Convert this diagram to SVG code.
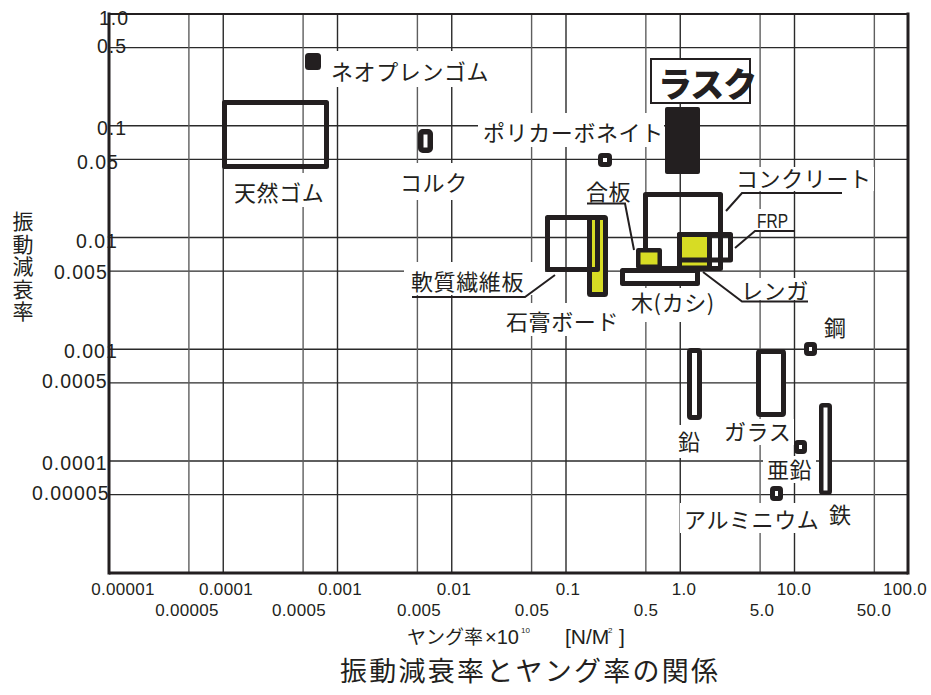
<svg xmlns="http://www.w3.org/2000/svg" width="931" height="695" viewBox="0 0 931 695">
<style>
.g{stroke:#2a2a2a;stroke-width:1.4;fill:none}
.gh{stroke:#5e5e5e;stroke-width:1.4;fill:none}
.b{stroke:#231f20;fill:none;stroke-linejoin:round}
.y{fill:#d7dc24}
.w{fill:#fff}
.k{fill:#231f20}
.bg{fill:#fff}
.lead{stroke:#231f20;stroke-width:2;fill:none}
.jp{font-family:"Noto Sans CJK JP","Noto Sans",sans-serif;font-size:22px;fill:#231f20;letter-spacing:0.6px}
.ny{font-family:"Liberation Sans",Arial,sans-serif;font-size:19.5px;fill:#231f20;letter-spacing:1px}
.nx{font-family:"Liberation Sans",Arial,sans-serif;font-size:17px;fill:#231f20;letter-spacing:0.3px;text-anchor:middle}
</style>
<rect x="0" y="0" width="931" height="695" fill="#fff"/>
<g id="grid">
<g class="g">
<line x1="109" y1="47.6" x2="908" y2="47.6"/>
<line x1="109" y1="125.75" x2="908" y2="125.75"/>
<line x1="109" y1="159.4" x2="908" y2="159.4"/>
<line x1="109" y1="237.5" x2="908" y2="237.5"/>
<line x1="109" y1="271.1" x2="908" y2="271.1"/>
<line x1="109" y1="349.25" x2="908" y2="349.25"/>
<line x1="109" y1="382.9" x2="908" y2="382.9"/>
<line x1="109" y1="461" x2="908" y2="461"/>
<line x1="109" y1="494.6" x2="908" y2="494.6"/>
<line x1="223.25" y1="14" x2="223.25" y2="573"/>
<line x1="337.5" y1="14" x2="337.5" y2="573"/>
<line x1="451.75" y1="14" x2="451.75" y2="573"/>
<line x1="566" y1="14" x2="566" y2="573"/>
<line x1="680.25" y1="14" x2="680.25" y2="573"/>
<line x1="794.5" y1="14" x2="794.5" y2="573"/>
</g>
<g class="gh">
<line x1="188.9" y1="14" x2="188.9" y2="573"/>
<line x1="303.1" y1="14" x2="303.1" y2="573"/>
<line x1="417.4" y1="14" x2="417.4" y2="573"/>
<line x1="531.6" y1="14" x2="531.6" y2="573"/>
<line x1="645.85" y1="14" x2="645.85" y2="573"/>
<line x1="760.1" y1="14" x2="760.1" y2="573"/>
<line x1="874.35" y1="14" x2="874.35" y2="573"/>
</g>
<line x1="109" y1="14" x2="908" y2="14" stroke="#231f20" stroke-width="2.2"/>
<line x1="109" y1="573" x2="908" y2="573" stroke="#231f20" stroke-width="3"/>
<line x1="109" y1="12.5" x2="109" y2="574.5" stroke="#231f20" stroke-width="3"/>
<line x1="908" y1="12.5" x2="908" y2="574.5" stroke="#231f20" stroke-width="3"/>
</g>
<g id="y-axis-labels" class="ny">
<text x="99" y="25">1.0</text>
<text x="97" y="53">0.5</text>
<text x="97" y="135">0.1</text>
<text x="77" y="169">0.05</text>
<text x="76" y="248">0.01</text>
<text x="54" y="279">0.005</text>
<text x="64" y="358">0.001</text>
<text x="42" y="388">0.0005</text>
<text x="42" y="470">0.0001</text>
<text x="32" y="500">0.00005</text>
</g>
<g id="x-axis-labels" class="nx">
<text x="123" y="595">0.00001</text>
<text x="226" y="595">0.0001</text>
<text x="340" y="595">0.001</text>
<text x="454" y="595">0.01</text>
<text x="568" y="595">0.1</text>
<text x="684" y="595">1.0</text>
<text x="794" y="595">10.0</text>
<text x="905" y="595">100.0</text>
<text x="187" y="616">0.00005</text>
<text x="299" y="616">0.0005</text>
<text x="419" y="616">0.005</text>
<text x="532" y="616">0.05</text>
<text x="646" y="616">0.5</text>
<text x="762" y="616">5.0</text>
<text x="874" y="616">50.0</text>
</g>
<g id="y-title">
<text x="23" y="211" writing-mode="vertical-rl" font-family="'Noto Sans CJK JP',sans-serif" font-size="21" letter-spacing="1.5" fill="#231f20">振動減衰率</text>
</g>
<g id="x-title" fill="#231f20">
<text x="407" y="644" font-family="'Liberation Sans','Noto Sans CJK JP',sans-serif" font-size="20"><tspan font-family="'Noto Sans CJK JP',sans-serif" font-size="19">ヤング率</tspan><tspan x="485">×10</tspan><tspan x="521" y="633" font-size="8">10</tspan><tspan x="565" y="644" font-size="21">[N/M</tspan><tspan x="608" y="633" font-size="8">2</tspan><tspan x="619" y="644" font-size="21">]</tspan></text>
</g>
<g id="caption">
<text x="340" y="681" font-family="'Noto Sans CJK JP',sans-serif" font-size="27" fill="#231f20" textLength="378" lengthAdjust="spacing">振動減衰率とヤング率の関係</text>
</g>

<g id="neoprene">
<rect class="bg" x="328" y="51" width="167" height="36"/>
<rect class="k" x="305" y="53" width="16" height="17" rx="3.5"/>
<text class="jp" x="331" y="80">ネオプレンゴム</text>
</g>
<g id="natural-rubber">
<rect class="bg" x="229" y="173" width="102" height="34"/>
<rect class="b" x="224.5" y="102.5" width="102" height="64" stroke-width="5"/>
<text class="jp" x="234" y="201">天然ゴム</text>
</g>
<g id="cork">
<rect class="bg" x="396" y="163" width="76" height="37"/>
<rect class="b w" x="420.75" y="131.75" width="9.5" height="18.5" rx="2" stroke-width="5.5"/>
<text class="jp" x="400" y="191">コルク</text>
</g>
<g id="polycarbonate">
<rect class="bg" x="478" y="113" width="186" height="34"/>
<rect class="b w" x="600.5" y="155.5" width="9" height="9" rx="1.5" stroke-width="5"/>
<text class="jp" x="483" y="141">ポリカーボネイト</text>
</g>
<g id="rusk">
<rect class="k" x="665" y="107" width="35" height="67" rx="2"/>
<rect x="651" y="59" width="99" height="44" fill="#fff" stroke="#231f20" stroke-width="2"/>
<text x="658" y="97" font-family="'Noto Sans CJK JP',sans-serif" font-size="34" font-weight="900" fill="#231f20" letter-spacing="-1">ラスク</text>
</g>
<g id="concrete">
<rect class="bg" x="733" y="167" width="141" height="24"/>
<rect class="b" x="645.5" y="194.5" width="75" height="74" stroke-width="5"/>
<text class="jp" x="736" y="187">コンクリート</text>
</g>
<g id="wood">
<rect class="bg" x="627" y="288" width="85" height="34"/>
<rect class="b w" x="622.5" y="270.5" width="75" height="13" stroke-width="5"/>
<text class="jp" x="631" y="311">木(カシ)</text>
</g>
<g id="brick">
<rect class="bg" x="737" y="278" width="75" height="22"/>
<rect class="b y" x="679.5" y="234.5" width="30" height="33.5" stroke-width="5"/>
<text class="jp" x="741" y="299">レンガ</text>
</g>
<g id="frp">
<rect class="bg" x="752" y="209" width="40" height="21"/>
<rect class="b" x="679.5" y="234.5" width="51" height="25.5" stroke-width="5"/>
<text x="757" y="228" font-family="'Liberation Sans',Arial,sans-serif" font-size="20" fill="#231f20" textLength="31" lengthAdjust="spacingAndGlyphs">FRP</text>
</g>
<g id="plywood">
<rect class="bg" x="582" y="180" width="50" height="22"/>
<rect class="b y" x="638.25" y="250.25" width="21.5" height="16.5" stroke-width="4.5"/>
<text class="jp" x="586" y="200">合板</text>
</g>
<g id="gypsum-board">
<rect class="bg" x="502" y="303" width="120" height="33"/>
<rect class="b y" x="589.5" y="217.5" width="16" height="77" rx="1" stroke-width="5"/>
<text class="jp" x="506" y="330">石膏ボード</text>
</g>
<g id="fiberboard">
<rect class="bg" x="404" y="262" width="141" height="33"/>
<rect class="b" x="547.5" y="217.5" width="50" height="52" stroke-width="5"/>
<text class="jp" x="411" y="290">軟質繊維板</text>
</g>
<g id="steel">
<rect class="bg" x="820" y="313" width="30" height="28"/>
<rect class="b w" x="806.5" y="344.5" width="8" height="9" rx="1.5" stroke-width="5"/>
<text class="jp" x="824" y="336" font-size="21">鋼</text>
</g>
<g id="lead">
<rect class="bg" x="674" y="425" width="30" height="33"/>
<rect class="b w" x="689.5" y="350.5" width="10" height="67" rx="1.5" stroke-width="5"/>
<text class="jp" x="678" y="450" font-size="21">鉛</text>
</g>
<g id="glass">
<rect class="bg" x="720" y="419" width="74" height="26"/>
<rect class="b w" x="758.5" y="351.5" width="25" height="63" rx="1.5" stroke-width="5"/>
<text class="jp" x="724" y="440">ガラス</text>
</g>
<g id="zinc">
<rect class="bg" x="763" y="456" width="53" height="27"/>
<rect class="b w" x="796.5" y="442.5" width="8" height="9" rx="1.5" stroke-width="5"/>
<text class="jp" x="767" y="478">亜鉛</text>
</g>
<g id="iron">
<rect class="bg" x="825" y="500" width="31" height="28"/>
<rect class="b w" x="821.25" y="405.25" width="8.5" height="87.5" rx="1.5" stroke-width="4.5"/>
<text class="jp" x="829" y="523">鉄</text>
</g>
<g id="aluminium">
<rect class="bg" x="680" y="503" width="146" height="30"/>
<rect class="b w" x="772.5" y="488.5" width="8" height="10" rx="1.5" stroke-width="5"/>
<text class="jp" x="684" y="528">アルミニウム</text>
</g>

<g id="connectors" class="lead">
<polyline points="587,203.5 625,203.5 634,250"/>
<polyline points="842,193 742,193 726,211"/>
<polyline points="795,231 755,231 735,248"/>
<polyline points="703,272 742,301.5 808,301.5"/>
<polyline points="412,297 525,297 555,275"/>
</g>
</svg>
